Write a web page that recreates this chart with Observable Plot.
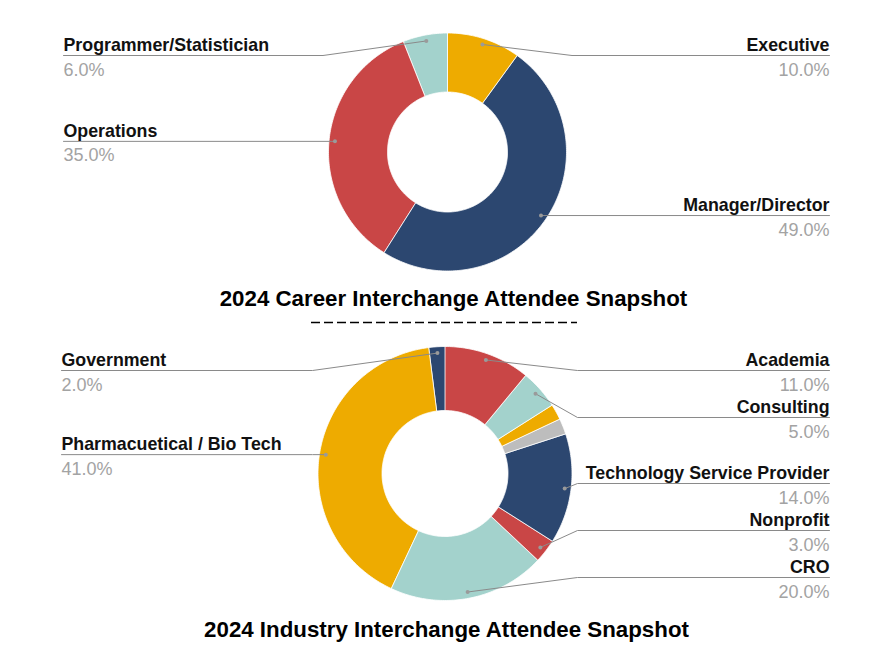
<!DOCTYPE html>
<html>
<head>
<meta charset="utf-8">
<script src="https://cdn.jsdelivr.net/npm/d3@7"></script>
<script src="https://cdn.jsdelivr.net/npm/@observablehq/plot@0.6"></script>
<style>
  html, body { margin: 0; padding: 0; background: #fff; }
  #chart svg { display: block; }
</style>
</head>
<body>
<div id="chart"></div>
<script>
// ---------- data ----------
const careerTitle = "2024 Career Interchange Attendee Snapshot";
const careerCategories = ["Executive", "Manager/Director", "Operations", "Programmer/Statistician"];
const careerValues = [10, 49, 35, 6];

const industryTitle = "2024 Industry Interchange Attendee Snapshot";
const industryCategories = ["Academia", "Consulting", "Unlabeled A", "Unlabeled B", "Technology Service Provider", "Nonprofit", "CRO", "Pharmacuetical / Bio Tech", "Government"];
const industryValues = [11, 5, 2, 2, 14, 3, 20, 41, 2];
const industryHidden = ["Unlabeled A", "Unlabeled B"];

// ---------- styles ----------
const careerColors = ["#EEAB00", "#2C4770", "#C94646", "#A3D2CC"];
const industryColors = ["#C94646", "#A3D2CC", "#EEAB00", "#BDBDBD", "#2C4770", "#C94646", "#A3D2CC", "#EEAB00", "#2C4770"];

// ---------- layout ----------
const W = 888, H = 646;
const charts = [
  {id: "career", title: careerTitle, cats: careerCategories, vals: careerValues, colors: careerColors, hidden: [],
   cx: 447, cy: 151.5, R: 119, r: 60, minY: 55, maxY: 270, leftX: 63, rightX: 829,
   titleX: 453, titleY: 305},
  {id: "industry", title: industryTitle, cats: industryCategories, vals: industryValues, colors: industryColors, hidden: industryHidden,
   cx: 444.5, cy: 473, R: 127, r: 63, minY: 370, maxY: 577, leftX: 61, rightX: 829,
   titleX: 446, titleY: 636}
];
const labelGap = 47;

const slicePts = [], leaderPts = [], dots = [], labels = [], pcts = [], titles = [];
const fmt = v => d3.format(".1f")(v) + "%";

for (const c of charts) {
  const total = d3.sum(c.vals);
  let acc = 0;
  const items = [];
  c.cats.forEach((cat, i) => {
    const a0 = acc / total * 2 * Math.PI;
    acc += c.vals[i];
    const a1 = acc / total * 2 * Math.PI;
    const key = c.id + ":" + cat;
    const n = Math.max(2, Math.ceil((a1 - a0) / (Math.PI / 180)));
    for (let k = 0; k <= n; k++) {
      const a = a0 + (a1 - a0) * k / n;
      slicePts.push({key, color: c.colors[i], x: c.cx + c.R * Math.sin(a), y: c.cy - c.R * Math.cos(a)});
    }
    for (let k = n; k >= 0; k--) {
      const a = a0 + (a1 - a0) * k / n;
      slicePts.push({key, color: c.colors[i], x: c.cx + c.r * Math.sin(a), y: c.cy - c.r * Math.cos(a)});
    }
    if (!c.hidden.includes(cat)) {
      const am = (a0 + a1) / 2;
      const rd = c.R * 0.95;
      const dx = c.cx + rd * Math.sin(am), dy = c.cy - rd * Math.cos(am);
      items.push({key, cat, value: c.vals[i], dx, dy, side: Math.sin(am) >= 0 ? "right" : "left"});
    }
  });
  // label placement per side
  for (const side of ["left", "right"]) {
    const s = items.filter(d => d.side === side).sort((a, b) => a.dy - b.dy);
    s.forEach((d, i) => { d.ly = Math.max(d.dy, c.minY, i ? s[i - 1].ly + labelGap : -Infinity); });
    for (let i = s.length - 1; i >= 0; i--) {
      s[i].ly = Math.min(s[i].ly, c.maxY, i < s.length - 1 ? s[i + 1].ly - labelGap : Infinity);
    }
  }
  for (const d of items) {
    const right = d.side === "right";
    const bx = right ? c.cx + c.R + 5.5 : c.cx - c.R - 5.5;
    const ex = right ? c.rightX : c.leftX;
    leaderPts.push({key: d.key, x: d.dx, y: d.dy}, {key: d.key, x: bx, y: d.ly}, {key: d.key, x: ex, y: d.ly});
    dots.push({x: d.dx, y: d.dy});
    labels.push({x: ex, y: d.ly - 4.5, text: d.cat, anchor: right ? "end" : "start"});
    pcts.push({x: ex, y: d.ly + 20, text: fmt(d.value), anchor: right ? "end" : "start"});
  }
  titles.push({x: c.titleX, y: c.titleY, text: c.title});
}

const font = "Liberation Sans, Arial, Helvetica, sans-serif";
const textMarks = (data, anchor) => data.filter(d => d.anchor === anchor);

const plot = Plot.plot({
  width: W, height: H, margin: 0,
  style: {fontFamily: font, background: "#fff"},
  x: {domain: [0, W], range: [0, W], axis: null},
  y: {domain: [0, H], range: [0, H], axis: null},
  color: {type: "identity"},
  marks: [
    Plot.line(slicePts, {x: "x", y: "y", z: "key", fill: "color", stroke: "#ffffff", strokeWidth: 0.8, curve: "linear-closed"}),
    Plot.line(leaderPts, {x: "x", y: "y", z: "key", stroke: "#8a8a8a", strokeWidth: 1}),
    Plot.dot(dots, {x: "x", y: "y", r: 2, fill: "#9a9a9a", stroke: "none"}),
    Plot.text(textMarks(labels, "start"), {x: "x", y: "y", text: "text", textAnchor: "start", lineAnchor: "bottom", fontSize: 17.8, fontWeight: "bold", fill: "#111"}),
    Plot.text(textMarks(labels, "end"), {x: "x", y: "y", text: "text", textAnchor: "end", lineAnchor: "bottom", fontSize: 17.8, fontWeight: "bold", fill: "#111"}),
    Plot.text(textMarks(pcts, "start"), {x: "x", y: "y", text: "text", textAnchor: "start", lineAnchor: "bottom", fontSize: 18, fill: "#a3a3a3"}),
    Plot.text(textMarks(pcts, "end"), {x: "x", y: "y", text: "text", textAnchor: "end", lineAnchor: "bottom", fontSize: 18, fill: "#a3a3a3"}),
    Plot.text(titles, {x: "x", y: "y", text: "text", textAnchor: "middle", lineAnchor: "bottom", fontSize: 22.3, fontWeight: "bold", fill: "#000"}),
    Plot.ruleY([322], {x1: 311, x2: 577, stroke: "#000", strokeWidth: 1.4, strokeDasharray: "9,4"})
  ]
});
document.getElementById("chart").appendChild(plot);
</script>
</body>
</html>
